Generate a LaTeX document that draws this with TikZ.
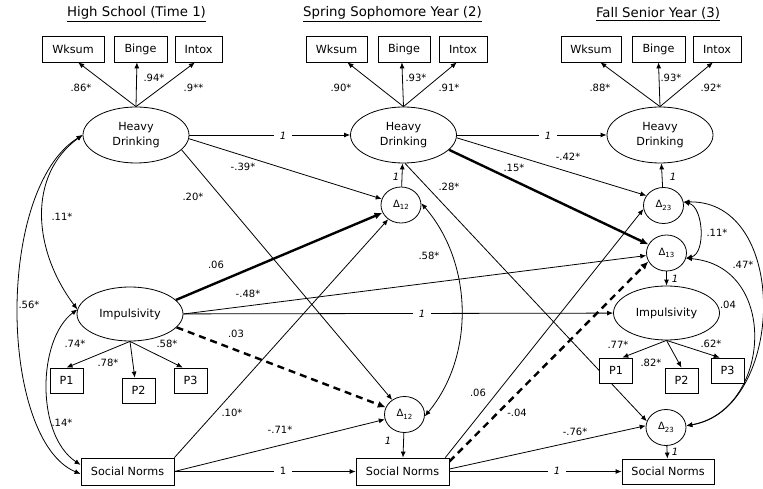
\documentclass[tikz,border=0pt]{standalone}
\usepackage{fontspec}
\setmainfont{DejaVu Sans}
\usetikzlibrary{shapes.geometric,arrows.meta,backgrounds}
\newcommand\DL[1]{{\fontsize{10}{12}\selectfont Δ\raisebox{-2.5pt}{\fontsize{7}{8}\selectfont #1}}}
\begin{document}
\begin{tikzpicture}[x=1pt,y=-1pt, font=\fontsize{11.2}{15}\selectfont,
  ttl/.style={font=\fontsize{13.3}{16}\selectfont, inner sep=0pt},
  obs/.style={draw, line width=0.8pt, fill=white, minimum height=26pt, inner sep=0pt},
  pbx/.style={obs, minimum width=33pt, minimum height=25pt},
  lat/.style={draw, ellipse, line width=0.8pt, fill=white, minimum width=106pt, minimum height=56pt, inner sep=0pt, align=center},
  dlt/.style={draw, ellipse, line width=0.8pt, fill=white, minimum width=40pt, minimum height=36pt, inner sep=0pt},
  lb/.style={font=\fontsize{10}{12}\selectfont, inner sep=0.5pt},
  lbi/.style={font=\fontsize{10}{12}\selectfont\itshape, inner sep=0.5pt},
  gap/.style={fill=white, inner xsep=6pt},
  arr/.style={line width=0.8pt, -{Latex[length=6pt,width=5pt]}},
  thk/.style={line width=2.4pt, -{Latex[length=8pt,width=7pt]}},
  dsh/.style={thk, dash pattern=on 7pt off 5pt},
  cov/.style={line width=0.8pt, {Latex[length=6pt,width=5pt]}-{Latex[length=6pt,width=5pt]}}]
\useasboundingbox (0,0) rectangle (763,489);

% titles
\node[ttl] (t1) at (136.5,14) {\underline{High School (Time 1)}};
\node[ttl] (t2) at (392.5,14) {\underline{Spring Sophomore Year (2)}};
\node[ttl] (t3) at (658,14) {\underline{Fall Senior Year (3)}};

% indicators
\node[obs,minimum width=62pt] (W1) at (73,49) {Wksum};
\node[obs,minimum width=53pt] (B1) at (140.5,49) {Binge};
\node[obs,minimum width=47pt] (X1) at (198.5,49) {Intox};
\node[obs,minimum width=61pt] (W2) at (336.5,49) {Wksum};
\node[obs,minimum width=52pt] (B2) at (404,49) {Binge};
\node[obs,minimum width=48pt] (X2) at (463,49) {Intox};
\node[obs,minimum width=60pt] (W3) at (591,49) {Wksum};
\node[obs,minimum width=53pt] (B3) at (658.5,49) {Binge};
\node[obs,minimum width=48pt] (X3) at (717,49) {Intox};

% latents
\node[lat] (HD1) at (136,135) {Heavy\\Drinking};
\node[lat] (HD2) at (403.5,135) {Heavy\\Drinking};
\node[lat] (HD3) at (660,135) {Heavy\\Drinking};
\node[lat,minimum height=54pt] (IM1) at (130,314) {Impulsivity};
\node[lat,minimum height=54pt] (IM3) at (666.5,313) {Impulsivity};

% impulsivity items
\node[pbx] (P1a) at (66.5,380.5) {P1};
\node[pbx] (P2a) at (138.5,390.5) {P2};
\node[pbx] (P3a) at (190.5,380.5) {P3};
\node[pbx] (P1c) at (616,370.5) {P1};
\node[pbx] (P2c) at (681.5,380.5) {P2};
\node[pbx] (P3c) at (727.5,370.5) {P3};

% social norms
\node[obs,minimum width=93pt,minimum height=27pt] (SN1) at (127.5,471.5) {Social Norms};
\node[obs,minimum width=93pt,minimum height=27pt] (SN2) at (402.5,471.5) {Social Norms};
\node[obs,minimum width=92pt,minimum height=25pt] (SN3) at (668,471.5) {Social Norms};

% change scores
\node[dlt] (D12a) at (401,205) {\DL{12}};
\node[dlt] (D12b) at (404.5,414.5) {\DL{12}};
\node[dlt] (D23a) at (663.5,205.5) {\DL{23}};
\node[dlt] (D13) at (666.5,253) {\DL{13}};
\node[dlt] (D23b) at (666,427.5) {\DL{23}};

\begin{pgfonlayer}{background}
% loadings
\draw[arr] (HD1.north) -- (W1.-69);
\draw[arr] (HD1.north) -- (B1.-105);
\draw[arr] (HD1.north) -- (X1.-105);
\draw[arr] (HD2.north) -- (W2.-51);
\draw[arr] (HD2.north) -- (B2.-99);
\draw[arr] (HD2.north) -- (X2.-115);
\draw[arr] (HD3.north) -- (W3.-55);
\draw[arr] (HD3.north) -- (B3.-90);
\draw[arr] (HD3.north) -- (X3.-107);
\draw[arr] (IM1.south) -- (P1a.north);
\draw[arr] (IM1.south) -- (P2a.106);
\draw[arr] (IM1.south) -- (P3a.121);
\draw[arr] (IM3.south) -- (P1c.64);
\draw[arr] (IM3.south) -- (P2c.north);
\draw[arr] (IM3.south) -- (P3c.121);
% autoregressive paths
\draw[arr] (HD1) -- (HD2);
\draw[arr] (HD2) -- (HD3);
\draw[arr] (IM1) -- (IM3);
\draw[arr] (SN1) -- (SN2);
\draw[arr] (SN2) -- (SN3);
% change score definitions
\draw[arr] (D12a) -- (HD2);
\draw[arr] (D23a) -- (HD3);
\draw[arr] (D13) -- (IM3);
\draw[arr] (D12b) -- (SN2);
\draw[arr] (D23b) -- (SN3);
% cross paths
\draw[arr] (HD1.-4) -- (D12a);
\draw[arr] (HD1.-18) -- (D12b);
\draw[thk] (HD2.-18) -- (D13);
\draw[arr] (HD2.-3) -- (D23a.150);
\draw[arr] (HD2.-87) -- (D23b.162);
\draw[thk] (IM1.17) -- (D12a);
\draw[arr] (IM1.east) -- (D13);
\draw[dsh] (IM1.-16) -- (D12b);
\draw[arr] (SN1.north east) -- (D12a);
\draw[arr] (SN1.east) -- (D12b);
\draw[arr] (SN2.18) -- (D23a.190);
\draw[dsh] (SN2.12) -- (D13.205);
\draw[arr] (SN2.3) -- (D23b.175);
% covariances
\draw[cov] (HD1.west) .. controls +(-55,40) and +(-45,-60) .. (IM1.175);
\draw[cov] (HD1.west) .. controls +(-88,55) and +(-81,-34) .. (SN1.183);
\draw[cov] (IM1.175) .. controls +(-40,30) and +(-45,-30) .. (SN1.172);
\draw[cov] (D12a.5) .. controls +(52,60) and +(50,-60) .. (D12b.-5);
\draw[cov] (D23a.10) .. controls +(20,5) and +(20,-5) .. (D13.-15);
\draw[cov] (D23a.10) .. controls +(107,-2) and +(99,-16) .. (D23b.5);
\draw[cov] (D13.-15) .. controls +(94,8) and +(85,-15) .. (D23b.5);
\end{pgfonlayer}

% loading labels
\node[lb] (l1) at (81,88) {.86*};
\node[lb] (l2) at (154,78) {.94*};
\node[lb] (l3) at (193.5,88) {.9**};
\node[lb] (l4) at (341,88) {.90*};
\node[lb] (l5) at (416,78) {.93*};
\node[lb] (l6) at (449,88) {.91*};
\node[lb] (l7) at (600,88) {.88*};
\node[lb] (l8) at (671,78) {.93*};
\node[lb] (l9) at (711,88) {.92*};
\node[lb] (l10) at (75,344) {.74*};
\node[lb] (l11) at (108,363) {.78*};
\node[lb] (l12) at (167,344) {.58*};
\node[lb] (l13) at (618,345) {.77*};
\node[lb] (l14) at (651,363) {.82*};
\node[lb] (l15) at (711,344) {.62*};

% fixed paths
\node[lbi,gap] (f1) at (283,136) {1};
\node[lbi,gap] (f2) at (548,136) {1};
\node[lbi,gap] (f3) at (422,313.5) {1};
\node[lb,gap] (f4) at (283,471) {1};
\node[lbi,gap] (f5) at (557,471) {1};
\node[lbi] (f6) at (396,177) {1};
\node[lbi] (f7) at (673,177) {1};
\node[lbi] (f8) at (675,279) {1};
\node[lbi] (f9) at (388,441) {1};
\node[lbi] (f10) at (675,452) {1};

% path coefficients
\node[lb] (c1) at (243,167) {-.39*};
\node[lb] (c2) at (193,197) {.20*};
\node[lb] (c3) at (62,217) {.11*};
\node[lb] (c4) at (216,265) {.06};
\node[lb] (c5) at (248,294) {-.48*};
\node[lb] (c6) at (29,305) {.56*};
\node[lb] (c7) at (236,334) {.03};
\node[lb] (c8) at (232,413) {.10*};
\node[lb] (c9) at (62,423) {.14*};
\node[lb] (c10) at (280,430) {-.71*};
\node[lb] (c11) at (449,187) {.28*};
\node[lb] (c12) at (429,256) {.58*};
\node[lb] (c13) at (514,168) {.15*};
\node[lb] (c14) at (568,157) {-.42*};
\node[lb] (c15) at (717,233) {.11*};
\node[lb] (c16) at (743,265) {.47*};
\node[lb] (c17) at (728,305) {.04};
\node[lb] (c18) at (478,393) {.06};
\node[lb] (c19) at (517,413) {-.04};
\node[lb] (c20) at (575,432) {-.76*};
\end{tikzpicture}
\end{document}
